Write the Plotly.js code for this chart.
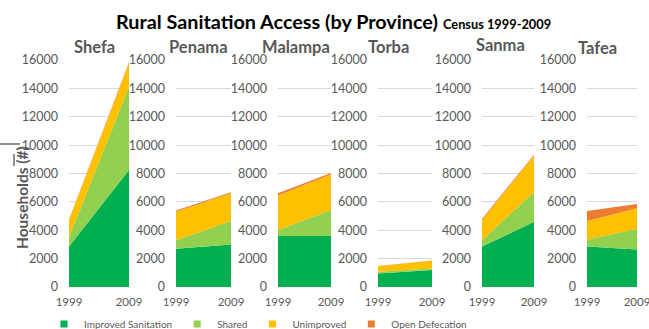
<!DOCTYPE html>
<html>
<head>
<meta charset="utf-8">
<script src="https://cdn.plot.ly/plotly-3.0.1.min.js"></script>
<style>html,body{margin:0;padding:0;background:#fff;}#chart{width:649px;height:329px;}</style>
</head>
<body>
<div id="chart"></div>
<script>
const provinces = ['Shefa', 'Penama', 'Malampa', 'Torba', 'Sanma', 'Tafea'];
const years = [1999, 2009];
const seriesNames = ['Improved Sanitation', 'Shared', 'Unimproved', 'Open Defecation'];
const seriesColors = ['#00B050', '#92D050', '#FFC000', '#ED7D31'];

// values per province: [1999, 2009]
const improved = [[2850, 8250], [2700, 3000], [3600, 3600], [960, 1200], [2850, 4600], [2850, 2650]];
const shared = [[650, 5850], [600, 1650], [400, 1850], [120, 100], [450, 2100], [500, 1450]];
const unimproved = [[1200, 1650], [2000, 1950], [2450, 2500], [380, 550], [1400, 2550], [1300, 1450]];
const openDefecation = [[50, 100], [100, 80], [150, 80], [20, 20], [100, 80], [700, 300]];

const yTicks = [0, 2000, 4000, 6000, 8000, 10000, 12000, 14000, 16000];

const W = 649, H = 329;
const px = v => v / W;
const py = v => 1 - v / H;

const xDomainsPx = [[69, 129], [176, 231], [278, 331], [378, 432], [482, 534], [587, 637]];
const titleCentersPx = [94, 198, 296, 388, 500, 597];
const titleYPx = [47, 47, 47, 47, 45, 48];

const allSeries = [improved, shared, unimproved, openDefecation];
const traces = [];
provinces.forEach((p, i) => {
  const ax = i === 0 ? '' : String(i + 1);
  allSeries.forEach((s, k) => {
    traces.push({
      type: 'scatter', x: years, y: s[i],
      xaxis: 'x' + ax, yaxis: 'y' + ax,
      stackgroup: 'g' + i, mode: 'none',
      fillcolor: seriesColors[k], line: {width: 0},
      name: seriesNames[k], showlegend: false, hoverinfo: 'skip'
    });
  });
});
seriesNames.forEach((n, k) => {
  traces.push({
    type: 'scatter', x: [null], y: [null], mode: 'markers',
    marker: {symbol: 'square', size: 7, color: seriesColors[k]},
    name: n, showlegend: true, xaxis: 'x', yaxis: 'y'
  });
});

const gray = '#595959';
const layout = {
  width: W, height: H,
  margin: {l: 0, r: 0, t: 0, b: 0, autoexpand: false},
  paper_bgcolor: '#ffffff', plot_bgcolor: '#ffffff',
  font: {family: 'Lato, sans-serif', color: gray, size: 11},
  showlegend: true,
  legend: {
    orientation: 'h', x: px(44), xanchor: 'left', y: py(324), yanchor: 'middle',
    font: {family: 'Lato, sans-serif', size: 10, color: gray},
    bgcolor: 'rgba(0,0,0,0)', traceorder: 'normal'
  },
  title: {
    text: '<b>Rural Sanitation Access (by Province)</b> <b><span style="font-size:12.8px">Census 1999-2009</span></b>',
    font: {family: 'Lato, sans-serif', size: 19.8, color: '#000000'},
    x: px(116), xanchor: 'left', xref: 'paper',
    y: py(22), yanchor: 'middle', yref: 'paper'
  },
  annotations: [],
  shapes: [
    {type: 'line', xref: 'paper', yref: 'paper', x0: 0, x1: px(20), y0: py(144), y1: py(144), line: {color: '#222', width: 1}},
    {type: 'line', xref: 'paper', yref: 'paper', x0: px(14), x1: px(14), y0: py(154), y1: py(166), line: {color: '#222', width: 1}}
  ]
};

provinces.forEach((p, i) => {
  const ax = i === 0 ? '' : String(i + 1);
  layout['xaxis' + ax] = {
    domain: [px(xDomainsPx[i][0]), px(xDomainsPx[i][1])],
    anchor: 'y' + ax, range: [1999, 2009],
    tickvals: years, ticktext: years.map(String),
    showgrid: false, zeroline: false, showline: false, ticks: '',
    ticklabelstandoff: 6, ticklabeloverflow: 'allow',
    tickfont: {family: 'Lato, sans-serif', size: 11.5, color: gray}
  };
  layout['yaxis' + ax] = {
    domain: [py(287), py(60)],
    anchor: 'x' + ax, range: [0, 16000],
    tickvals: yTicks, ticktext: yTicks.map(String),
    showgrid: true, gridcolor: '#d9d9d9', gridwidth: 1,
    zeroline: false, showline: false, ticks: '',
    ticklabelstandoff: 10, ticklabeloverflow: 'allow',
    tickfont: {family: 'Lato, sans-serif', size: 12.5, color: gray}
  };
  layout.annotations.push({
    text: '<b>' + p + '</b>', xref: 'paper', yref: 'paper',
    x: px(titleCentersPx[i]), y: py(titleYPx[i]), xanchor: 'center', yanchor: 'middle',
    showarrow: false, font: {family: 'Lato, sans-serif', size: 16.5, color: gray}
  });
});

layout.annotations.push({
  text: '<b>Households (#)</b>', xref: 'paper', yref: 'paper',
  x: px(22), y: py(198), xanchor: 'center', yanchor: 'middle', textangle: -90,
  showarrow: false, font: {family: 'Lato, sans-serif', size: 15.5, color: gray}
});

Plotly.newPlot('chart', traces, layout, {displayModeBar: false, staticPlot: true});
</script>
</body>
</html>
